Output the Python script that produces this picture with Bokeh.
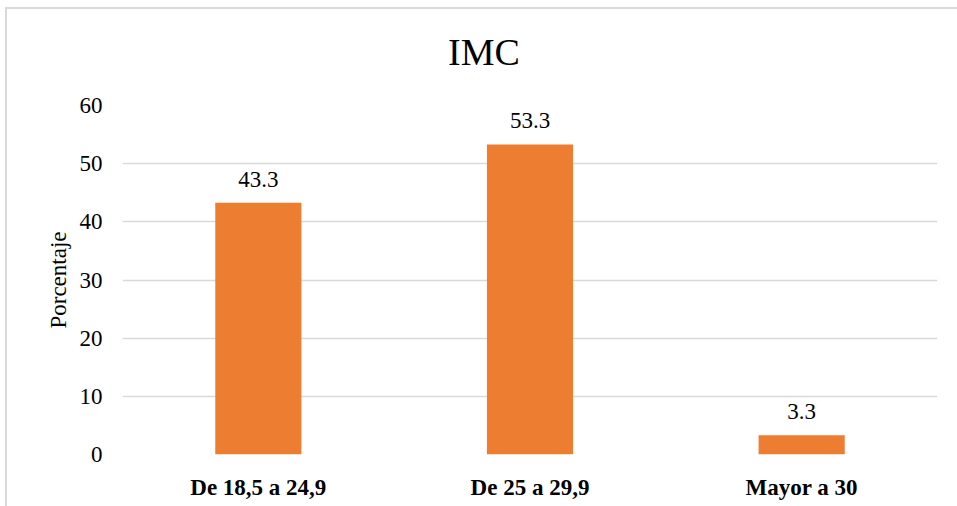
from bokeh.plotting import figure
from bokeh.models import ColumnDataSource, LabelSet, FactorRange, Range1d, Div
from bokeh.layouts import column
from bokeh.core.properties import value
from bokeh.embed import file_html
from bokeh.resources import INLINE

title_text = "IMC"
categories = ["De 18,5 a 24,9", "De 25 a 29,9", "Mayor a 30"]
values = [43.3, 53.3, 3.3]
labels = ["43.3", "53.3", "3.3"]
y_ticks = [0, 10, 20, 30, 40, 50, 60]

FONT = "Liberation Serif"

src = ColumnDataSource(dict(cat=categories, val=values, lab=labels))

title_div = Div(text=title_text, width=954, height=66, margin=(0, 0, 0, 0),
                styles={"font-family": "'Liberation Serif', serif", "font-size": "38px",
                        "text-align": "center", "line-height": "86px", "color": "#000000"})

p = figure(x_range=FactorRange(*categories, range_padding=0), y_range=Range1d(0, 60),
           width=966, height=446, output_backend="svg", toolbar_location=None,
           min_border_left=115, min_border_top=30, min_border_right=36, min_border_bottom=67)
p.margin = (0, 0, 0, 0)

p.vbar(x="cat", top="val", width=0.317, source=src, color="#ED7D31", line_color=None)

p.add_layout(LabelSet(x="cat", y="val", text="lab", source=src, text_align="center",
                      text_baseline="alphabetic", y_offset=16, text_font=value(FONT),
                      text_font_style=value("normal"),
                      text_font_size=value("23px"), text_color=value("#000000")))

p.outline_line_color = None
p.xgrid.grid_line_color = None
p.ygrid.grid_line_color = "#d9d9d9"
p.ygrid.grid_line_width = 1.5
p.yaxis.ticker = y_ticks

p.yaxis.axis_line_color = None
p.yaxis.major_tick_line_color = None
p.yaxis.minor_tick_line_color = None
p.yaxis.major_tick_out = 0
p.yaxis.major_label_standoff = 20
p.yaxis.major_label_text_font = FONT
p.yaxis.major_label_text_font_style = "normal"
p.yaxis.major_label_text_font_size = "23px"
p.yaxis.major_label_text_color = "#000000"
p.yaxis.axis_label = "Porcentaje"
p.yaxis.axis_label_text_font = FONT
p.yaxis.axis_label_text_font_size = "23px"
p.yaxis.axis_label_text_font_style = "normal"
p.yaxis.axis_label_text_color = "#000000"
p.yaxis.axis_label_standoff = 6

p.xaxis.axis_line_color = None
p.xaxis.major_tick_line_color = None
p.xaxis.major_tick_out = 0
p.xaxis.major_label_standoff = 20
p.xaxis.major_label_text_font = FONT
p.xaxis.major_label_text_font_size = "23px"
p.xaxis.major_label_text_font_style = "bold"
p.xaxis.major_label_text_color = "#000000"

layout = column(title_div, p, spacing=0,
                styles={"margin-left": "5px", "margin-top": "7px", "border": "2px solid #d9d9d9"})

open("out.html", "w").write(file_html(layout, INLINE))
